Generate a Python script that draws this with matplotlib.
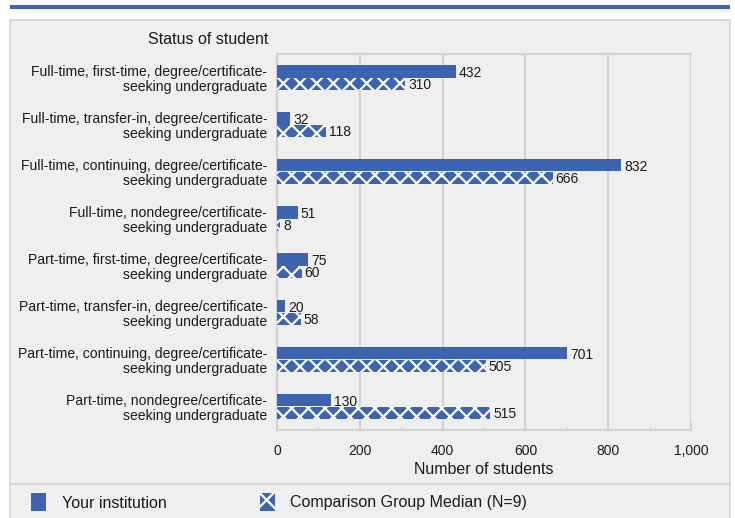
import numpy as np
import matplotlib
matplotlib.use('Agg')
import matplotlib.pyplot as plt
from matplotlib.patches import Rectangle
from matplotlib.lines import Line2D

# 데이터
categories = [
    'Full-time, first-time, degree/certificate-\nseeking undergraduate',
    'Full-time, transfer-in, degree/certificate-\nseeking undergraduate',
    'Full-time, continuing, degree/certificate-\nseeking undergraduate',
    'Full-time, nondegree/certificate-\nseeking undergraduate',
    'Part-time, first-time, degree/certificate-\nseeking undergraduate',
    'Part-time, transfer-in, degree/certificate-\nseeking undergraduate',
    'Part-time, continuing, degree/certificate-\nseeking undergraduate',
    'Part-time, nondegree/certificate-\nseeking undergraduate',
]
your_institution = [432, 32, 832, 51, 75, 20, 701, 130]
comparison_median = [310, 118, 666, 8, 60, 58, 505, 515]
x_ticks = [0, 200, 400, 600, 800, 1000]
x_tick_labels = ['0', '200', '400', '600', '800', '1,000']

BLUE = '#3c64b0'
PANEL = '#efefef'
GRID = '#d2d2d2'
TEXT = '#1a1a1a'

plt.rcParams['font.family'] = ['Liberation Sans', 'DejaVu Sans']
plt.rcParams['hatch.linewidth'] = 1.6
plt.rcParams['hatch.color'] = 'white'

W, H = 735, 518
fig = plt.figure(figsize=(W / 100, H / 100), dpi=100)
fig.patch.set_facecolor('white')

def fx(px):
    return px / W

def fy(py):
    return 1 - py / H

# 상단 파란 띠와 회색 패널
fig.patches.append(Rectangle((fx(10), fy(9)), fx(720), 4 / H, transform=fig.transFigure,
                             facecolor=BLUE, edgecolor='none', zorder=-10))
fig.patches.append(Rectangle((fx(10), fy(530)), fx(720), 510 / H, transform=fig.transFigure,
                             facecolor=PANEL, edgecolor='#d6d6d6', linewidth=1.2, zorder=-10))
fig.lines.append(Line2D([fx(10), fx(730)], [fy(484), fy(484)], transform=fig.transFigure,
                        color='#d6d6d6', linewidth=1.5, zorder=-9))

ax = fig.add_axes([fx(277), fy(430), fx(691 - 277), (430 - 54) / H])
ax.set_facecolor(PANEL)
ax.set_zorder(1)

y = np.arange(len(categories))
h = 0.265
ax.barh(y - h / 2, your_institution, height=h, color=BLUE, edgecolor='none', zorder=3)
ax.barh(y + h / 2, comparison_median, height=h, color=BLUE, edgecolor='white',
        linewidth=0, hatch='xx', zorder=3)

for yi, v in zip(y, your_institution):
    ax.annotate(str(v), (v, yi - h / 2), xytext=(2, -1), textcoords='offset points',
                va='center', ha='left', fontsize=10, color=TEXT, zorder=4)
for yi, v in zip(y, comparison_median):
    ax.annotate(str(v), (v, yi + h / 2), xytext=(2, -1), textcoords='offset points',
                va='center', ha='left', fontsize=10, color=TEXT, zorder=4)

ax.set_xlim(0, 1000)
ax.set_ylim(len(categories) - 0.5, -0.5)
ax.set_xticks(x_ticks)
ax.set_xticklabels(x_tick_labels, fontsize=10, color=TEXT)
ax.set_xticks(np.arange(100, 1000, 200), minor=True)
ax.set_yticks(y)
ax.set_yticklabels(categories, fontsize=10.1, color=TEXT, ha='right', linespacing=1.1)
ax.tick_params(axis='y', length=0, pad=7)
ax.tick_params(axis='x', which='major', length=6, color=GRID, pad=10, direction='in')
ax.tick_params(axis='x', which='minor', length=3, color=GRID, direction='in')
ax.grid(axis='x', color=GRID, linewidth=1.5, zorder=0)
for s in ax.spines.values():
    s.set_color(GRID)
    s.set_linewidth(1.5)
ax.spines['right'].set_visible(False)

ax.set_xlabel('Number of students', fontsize=11.5, color=TEXT, labelpad=3)
fig.text(fx(268), fy(40), 'Status of student', fontsize=11.5, color=TEXT, ha='right', va='center')

# 범례
fig.patches.append(Rectangle((fx(31), fy(511)), 15 / W, 18 / H, transform=fig.transFigure,
                             facecolor=BLUE, edgecolor='none'))
fig.text(fx(62), fy(503), 'Your institution', fontsize=11.5, color=TEXT, va='center')
fig.patches.append(Rectangle((fx(260), fy(511)), 15 / W, 18 / H, transform=fig.transFigure,
                             facecolor=BLUE, edgecolor='white', linewidth=0, hatch='x'))
fig.text(fx(290), fy(503), 'Comparison Group Median (N=9)', fontsize=11.5, color=TEXT, va='center')

fig.savefig('out.png', dpi=100)
